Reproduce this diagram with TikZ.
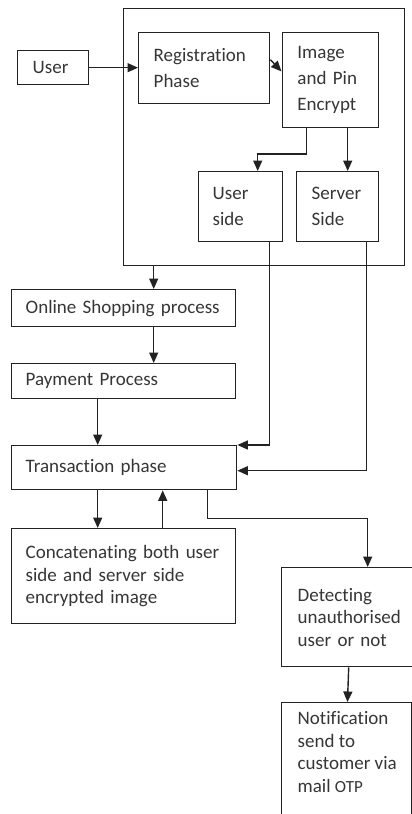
\documentclass[tikz,border=0pt]{standalone}
\usepackage{fontspec}
\setmainfont[Ligatures={NoCommon}]{Carlito}
\usetikzlibrary{arrows.meta}
\definecolor{ink}{HTML}{222222}
\definecolor{txt}{HTML}{363636}
\begin{document}
\begin{tikzpicture}[x=1pt,y=-1pt,
  line width=1.4pt,
  box/.style={draw=ink, rectangle, anchor=north west, inner sep=0pt,
    inner xsep=15pt, align=left, text=txt,
    font=\fontsize{19}{22.5}\selectfont},
  topbox/.style={box, font=\fontsize{19}{26}\selectfont},
  arr/.style={draw=ink, -{Triangle[length=10.5pt,width=9pt]}}]
\useasboundingbox (0,0) rectangle (412,814);
\clip (0,0) rectangle (412,814);
\fill[white] (0,0) rectangle (412,814);

% registration block with its inner steps
\node[draw=ink, rectangle, anchor=north west, minimum width=281.5pt, minimum height=257pt] (outer) at (122.5,8) {};
\node[box, minimum width=71pt, minimum height=34pt, text width=41pt] (user) at (17,50) {User};
\node[topbox, minimum width=131pt, minimum height=71pt, text width=101pt] (reg) at (138,32) {Registration\\Phase};
\node[topbox, minimum width=96.5pt, minimum height=94.5pt, text width=66pt] (img) at (281.5,32) {Image\\and Pin\\Encrypt};
\node[topbox, minimum width=84pt, minimum height=70pt, text width=56pt, inner xsep=14pt] (uside) at (198,171) {User\\side};
\node[topbox, minimum width=82pt, minimum height=70pt, text width=52pt] (sside) at (296,171) {Server\\Side};

% main process chain
\node[box, minimum width=224pt, minimum height=37pt, text width=196pt, inner xsep=14pt] (online) at (11,289) {Online Shopping process};
\node[box, minimum width=224pt, minimum height=35pt, text width=196pt, inner xsep=14pt] (pay) at (11,363) {Payment Process};
\node[box, minimum width=225pt, minimum height=44pt, text width=197pt, inner xsep=14pt] (trans) at (11,445) {Transaction phase};
\node[box, minimum width=224pt, minimum height=95pt, text width=196pt, inner xsep=14pt] (concat) at (11,528) {Concatenating both user\\side and server side\\encrypted image};
\node[box, minimum width=129.5pt, minimum height=99pt, text width=100pt, inner xsep=16pt] (detect) at (281,567) {Detecting\\unauthorised\\user or not};
\node[draw=ink, rectangle, anchor=north west, minimum width=129.5pt, minimum height=130pt] (notif) at (281,702) {};
\node[anchor=north west, inner sep=0pt, align=left, text=txt, font=\fontsize{19}{22.5}\selectfont] (notiftext) at ([xshift=16pt,yshift=-9pt]notif.north west)
  {Notification\\send to\\customer via\\mail {\fontsize{17}{22.5}\selectfont OTP}};

% connectors
\draw[arr] (user.east) -- (user.east -| reg.west);
\draw[arr] ([yshift=8.5pt]reg.east) -- ([yshift=8.5pt]img.west);
\draw[arr] ([xshift=-24pt]img.south) -- ++(0,26) -| ([xshift=17pt]uside.north);
\draw[arr] ([xshift=10pt]sside.north |- img.south) -- ([xshift=10pt]sside.north);
\draw[arr] ([xshift=30pt]online.north |- outer.south) -- ([xshift=30pt]online.north);
\draw[arr] ([xshift=30pt]online.south) -- ([xshift=30pt]pay.north);
\draw[arr] ([xshift=-26pt]pay.south) -- ([xshift=-26pt]pay.south |- trans.north);
\draw[arr] ([xshift=29pt]uside.south) |- (trans.north east);
\draw[arr] ([xshift=29pt]sside.south) |- ([yshift=-3pt]trans.east);
\draw[arr] ([xshift=-26.5pt]trans.south) -- ([xshift=-26.5pt]trans.south |- concat.north);
\draw[arr] ([xshift=38.5pt]trans.south |- concat.north) -- ([xshift=38.5pt]trans.south);
\draw[arr] ([xshift=83.5pt]trans.south) -- ++(0,28) -| ([xshift=20pt]detect.north);
\draw[arr] ([xshift=1pt]detect.south) -- ([xshift=1pt]notif.north);
\end{tikzpicture}
\end{document}
